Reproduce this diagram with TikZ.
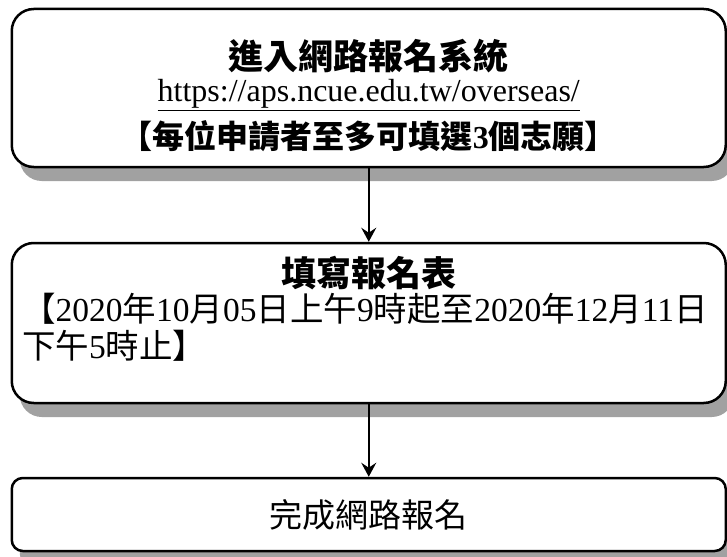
\documentclass[tikz,border=0pt]{standalone}
\usepackage{fontspec}
\setmainfont{Liberation Serif}
\newfontfamily\cjk{Noto Sans CJK TC}
\usetikzlibrary{arrows.meta, shadows}
\newcommand{\zh}[1]{{\cjk #1}}
\newcommand{\zhb}[1]{{\cjk\bfseries #1}}

\tikzset{
  stepbox/.style={draw, line width=2.5pt, rounded corners=22pt, fill=white,
    minimum width=714pt, inner sep=0pt,
    drop shadow={shadow xshift=8pt, shadow yshift=-14pt, fill=black!37, opacity=1}},
  flow/.style={-{Stealth[length=14pt, width=15pt, inset=5pt]}, line width=1.8pt},
  titletext/.style={font=\fontsize{35}{40}\selectfont\cjk\bfseries, inner sep=0pt},
  bodytext/.style={font=\fontsize{32}{37}\selectfont, inner sep=0pt}
}

\begin{document}
\begin{tikzpicture}[x=1pt, y=-1pt]
  \useasboundingbox (0,0) rectangle (727,556);

  % steps
  \node[stepbox, minimum height=158pt] (apply) at (368.75,88) {};
  \node[stepbox, minimum height=160pt] (form) at (368.75,323) {};
  \node[stepbox, minimum height=73pt, rounded corners=11pt, bodytext,
    font=\fontsize{33}{38}\selectfont\cjk] (done) at (368.75,514.5) {完成網路報名};

  % text of the first step
  \node[titletext] (applytitle) at (368.75,56) {進入網路報名系統};
  \node[bodytext, anchor=base] (url) at (368.75,102) {\underline{https://aps.ncue.edu.tw/overseas/}};
  \node[bodytext, font=\fontsize{32}{37}\selectfont\bfseries] (limit) at (368.75,136)
    {\zhb{【每位申請者至多可填選}3\zhb{個志願】}};

  % text of the second step
  \node[titletext] (formtitle) at (368.75,273) {填寫報名表};
  \node[bodytext, anchor=west, font=\fontsize{33.5}{38}\selectfont] (period) at (22,309)
    {\zh{【}2020\zh{年}10\zh{月}05\zh{日上午}9\zh{時起至}2020\zh{年}12\zh{月}11\zh{日}};
  \node[bodytext, anchor=west, font=\fontsize{33.5}{38}\selectfont] (periodend) at (22,346)
    {\zh{下午}5\zh{時止】}};

  % connectors
  \draw[flow] (apply) -- (form);
  \draw[flow] (form) -- (done);
\end{tikzpicture}
\end{document}
